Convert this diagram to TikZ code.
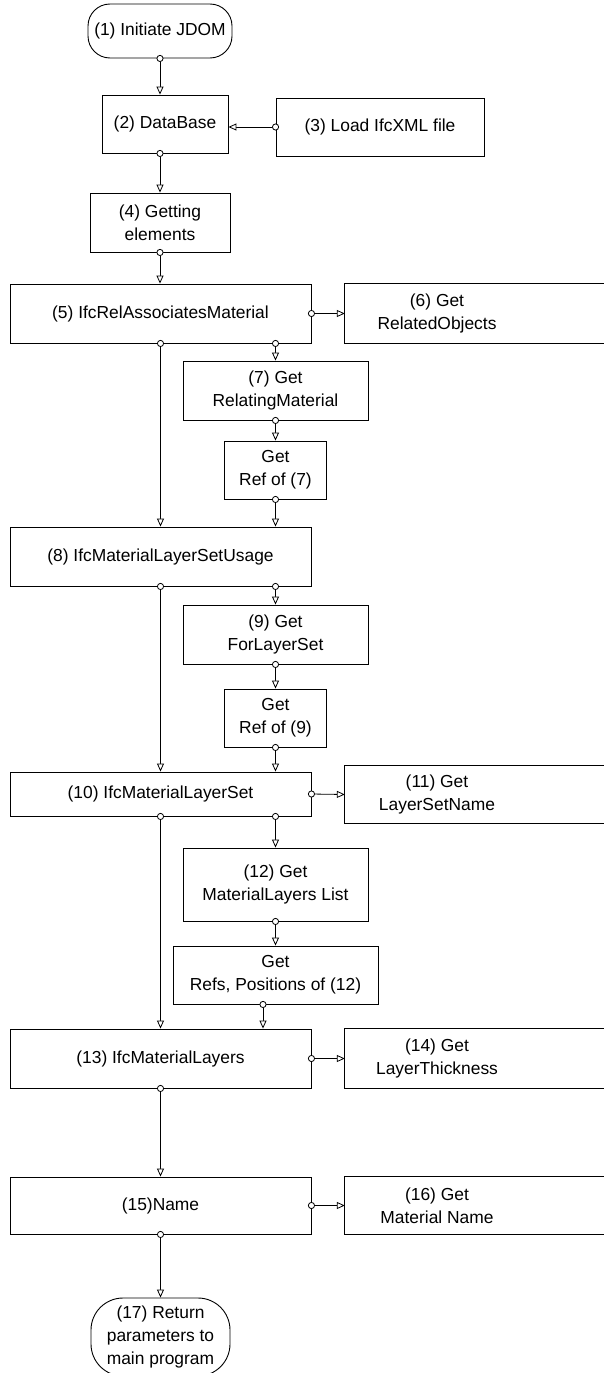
\documentclass[tikz,border=0pt]{standalone}
\usepackage{fontspec}
\setmainfont{Liberation Sans}
\usetikzlibrary{arrows.meta}
\begin{document}
\begin{tikzpicture}[x=1pt,y=-1pt,
  every node/.style={font=\fontsize{17.4}{23}\selectfont, align=center, inner sep=0pt},
  box/.style={draw, line width=0.9pt, minimum width=#1},
  box/.default=301pt,
  term/.style={draw, line width=0.9pt, rounded corners=22pt},
  sidetext/.style={minimum width=184pt},
  frame/.style={line width=0.9pt},
  conn/.style={line width=0.8pt,
    {Circle[length=7pt,width=7pt,fill=white]}-{Triangle[length=8pt,width=7pt,fill=white]},
    shorten <=-3.5pt}]
\useasboundingbox (0,0) rectangle (604,1373);

% terminals
\node[term, minimum width=144pt, minimum height=54pt] (n1) at (160,31) {(1) Initiate JDOM};
\node[term, rounded corners=32pt, minimum width=139pt, minimum height=78pt] (n17) at (160.5,1337)
  {(17) Return\\parameters to\\main program};

% main column
\node[box=126pt, minimum height=58pt] (n2) at (165,124) {(2) DataBase};
\node[box=208pt, minimum height=58pt] (n3) at (380,127) {(3) Load IfcXML file};
\node[box=140pt, minimum height=59pt] (n4) at (160,222.5) {(4) Getting\\elements};
\node[box, minimum height=59pt] (n5) at (160.5,313.5) {(5) IfcRelAssociatesMaterial};
\node[box, minimum height=59pt] (n8) at (160.5,556.5) {(8) IfcMaterialLayerSetUsage};
\node[box, minimum height=44pt] (n10) at (160.5,794) {(10) IfcMaterialLayerSet};
\node[box, minimum height=59pt] (n13) at (160.5,1058.5) {(13) IfcMaterialLayers};
\node[box, minimum height=57pt] (n15) at (160.5,1205.5) {(15)Name};

% inner column
\node[box=185pt, minimum height=59pt] (n7) at (275.5,390.5) {(7) Get\\RelatingMaterial};
\node[box=102pt, minimum height=58pt] (r7) at (275.5,470) {Get\\Ref of (7)};
\node[box=185pt, minimum height=59pt] (n9) at (275.5,634.5) {(9) Get\\ForLayerSet};
\node[box=102pt, minimum height=58pt] (r9) at (275.5,718) {Get\\Ref of (9)};
\node[box=185pt, minimum height=73pt] (n12) at (275.5,884.5) {(12) Get\\MaterialLayers List};
\node[box=205pt, minimum height=58pt] (r12) at (275.5,975) {Get\\Refs, Positions of (12)};

% right column (boxes run past the right edge)
\node[sidetext, minimum height=59pt] (n6) at (437,313.5) {(6) Get\\RelatedObjects};
\node[sidetext, minimum height=57pt] (n11) at (437,794.5) {(11) Get\\LayerSetName};
\node[sidetext, minimum height=59pt] (n14) at (437,1058.5) {(14) Get\\LayerThickness};
\node[sidetext, minimum height=57pt] (n16) at (437,1205.5) {(16) Get\\Material Name};
\foreach \n in {n6,n11,n14,n16}
  \draw[frame] (\n.south west) rectangle ([xshift=120pt]\n.north east);

% connectors
\draw[conn] (n1.south) -- (n1.south |- n2.north);
\draw[conn] (n3.west) -- (n3.west -| n2.east);
\draw[conn] (n1.south |- n2.south) -- (n4.north);
\draw[conn] (n4.south) -- (n4.south |- n5.north);
\draw[conn] (n5.east) -- (n6.west);
\draw[conn] (n5.south) -- (n8.north);
\draw[conn] (n5.south -| n7.north) -- (n7.north);
\draw[conn] (n7.south) -- (r7.north);
\draw[conn] (r7.south) -- (r7.south |- n8.north);
\draw[conn] (n8.south) -- (n10.north);
\draw[conn] (n8.south -| n9.north) -- (n9.north);
\draw[conn] (n9.south) -- (r9.north);
\draw[conn] (r9.south) -- (r9.south |- n10.north);
\draw[conn] (n10.east) -- (n11.west);
\draw[conn] (n10.south) -- (n13.north);
\draw[conn] (n10.south -| n12.north) -- (n12.north);
\draw[conn] (n12.south) -- (r12.north);
\draw[conn] ([xshift=-12.5pt]r12.south) -- ([xshift=-12.5pt]r12.south |- n13.north);
\draw[conn] (n13.east) -- (n14.west);
\draw[conn] (n13.south) -- (n15.north);
\draw[conn] (n15.east) -- (n16.west);
\draw[conn] (n15.south) -- (n17.north);
\end{tikzpicture}
\end{document}
